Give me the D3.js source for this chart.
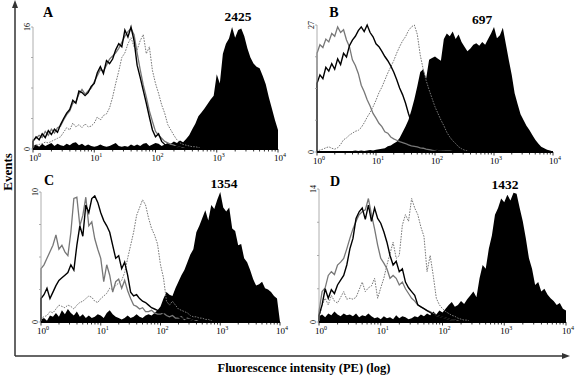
<!DOCTYPE html>
<html>
<head>
<meta charset="utf-8">
<script src="https://cdn.jsdelivr.net/npm/d3@7"></script>
<style>
  body { margin: 0; background: #fff; }
  svg { display: block; font-family: "Liberation Serif", "DejaVu Serif", serif; }
</style>
</head>
<body>
<div id="wrapper"></div>
<script>
// bins are 0.05 apart in log10(fluorescence), starting at 10^0
const binStep = 0.05
const decadeExponents = [0, 1, 2, 3, 4]
const panelLetters = ["A", "B", "C", "D"]
const panelCounts = ["2425", "697", "1354", "1432"]
const yMaxes = [16, 27, 10, 14]

// panel A
const aFill = [
  0.4,0.6,0.3,0.7,0.4,0.6,0.8,0.4,0.7,0.5,
  0.4,0.7,0.5,0.8,0.9,0.5,0.7,0.4,0.6,0.4,
  0.3,0.4,0.6,0.4,0.3,0.4,0.6,0.8,0.4,0.3,
  0.4,0.3,0.6,0.4,0.6,0.4,0.7,0.8,0.4,0.6,
  0.8,0.7,0.4,0.6,0.8,0.7,1.0,0.8,1.1,0.9,
  1.3,1.8,2.6,3.3,4.3,4.8,5.3,5.9,6.5,7.0,
  9.8,8.6,12.5,13.8,14.5,16.0,14.6,15.6,15.8,14.8,
  13.2,12.0,11.2,10.8,10.6,9.6,8.5,6.8,5.3,3.8,
  2.5
]
const aGray = [
  1.2,1.4,1.8,1.5,2.3,1.8,2.6,2.1,2.8,3.0,
  3.8,4.5,5.0,6.0,6.2,7.2,7.8,7.2,7.6,8.0,
  8.8,9.6,10.4,10.2,11.0,11.8,12.2,12.6,13.2,14.0,
  14.8,15.4,15.8,15.0,12.6,10.4,8.4,6.8,5.0,3.6,
  2.3,1.8,1.4,1.0,0.8,0.6,0.5,0.3,0.2,0.1,
  0
]
const aBlack = [
  1.0,1.6,1.2,2.0,1.5,2.4,1.9,2.6,2.2,3.2,
  4.0,4.7,5.2,6.4,6.0,7.6,7.4,7.0,7.4,8.2,
  8.6,10.0,10.8,9.9,11.6,11.2,11.8,13.0,13.8,13.4,
  15.6,14.7,16.0,14.2,11.0,9.4,7.7,6.0,4.2,2.5,
  1.6,2.0,1.0,0.6,0.5,0.4,0.3,0.3,0.2,0
]
const aDotted = [
  0.3,0.5,0.6,0.7,0.9,0.8,1.0,1.2,1.4,1.6,
  2.2,2.8,2.5,3.4,2.9,3.2,2.8,3.3,2.9,3.0,
  3.4,4.2,3.8,4.4,4.6,5.4,6.8,8.6,10.2,12.0,
  12.6,13.8,14.6,13.4,13.0,14.2,15.0,12.5,13.4,10.3,
  8.6,7.3,5.8,4.7,3.2,2.5,1.8,1.2,0.8,0.6,
  0.5,0.4,0.3,0.3,0.2,0
]

// panel B
const bFill = [
  0.1,0.1,0.2,0.1,0.2,0.1,0.2,0.2,0.1,0.2,
  0.2,0.1,0.2,0.3,0.2,0.3,0.2,0.3,0.4,0.3,
  0.5,0.6,0.7,0.8,1.2,1.4,1.8,2.2,3.0,4.2,
  5.4,6.8,8.9,11.2,14.0,17.0,17.6,15.6,19.6,20.0,
  20.3,19.8,19.4,24.0,25.2,24.6,25.6,24.0,25.0,23.4,
  22.4,21.4,22.0,22.8,23.1,22.6,23.4,22.8,24.0,25.2,
  26.6,24.2,24.8,26.4,23.0,19.6,16.4,12.5,10.2,8.0,
  6.8,5.6,4.7,3.6,2.6,1.8,1.1,0.8,0.5,0.3,
  0.1
]
const bGray = [
  21.0,22.8,22.2,24.0,23.4,25.2,24.6,26.6,25.4,26.0,
  23.8,22.4,19.6,18.4,16.7,14.2,12.8,11.1,9.8,8.2,
  7.2,6.1,5.4,4.3,4.0,3.2,2.8,2.5,2.2,2.0,
  1.8,1.5,1.3,1.2,1.1,0.9,0.8,0.6,0.5,0.4,
  0.4,0.3,0.3,0.2,0.2,0.2,0.1,0
]
const bBlack = [
  14.6,16.4,15.6,18.0,17.2,18.8,17.6,19.8,18.6,21.0,
  20.2,22.6,23.8,24.6,25.8,26.6,25.6,27.0,25.4,24.5,
  23.0,22.4,21.4,20.3,19.4,18.3,17.0,15.4,13.6,12.2,
  10.4,8.2,6.3,4.6,2.8,2.0,1.5,1.2,1.0,0.7,
  0.5,0.3,0.2,0.1,0
]
const bDotted = [
  0.2,0.4,0.6,0.9,1.1,0.8,0.6,0.9,1.6,2.6,
  3.0,3.6,4.0,4.4,4.6,5.2,6.2,7.4,8.4,9.6,
  11.0,12.6,13.8,15.3,16.8,18.1,19.4,21.0,22.4,23.6,
  24.5,25.8,26.6,27.0,25.0,20.6,17.6,15.2,13.2,11.4,
  9.6,8.2,6.8,5.6,4.2,3.2,2.4,1.8,1.1,0.7,
  0.4,0.2,0
]

// panel C
const cFill = [
  0.2,0.3,0.1,0.5,0.4,0.7,0.4,0.9,0.6,1.0,
  0.7,0.5,0.8,0.4,0.6,0.3,0.5,0.3,0.4,0.6,
  0.5,0.3,0.7,0.9,0.6,0.4,0.3,0.2,0.3,0.5,
  0.3,0.4,0.6,0.4,0.3,0.5,0.6,0.5,0.7,0.9,
  1.2,1.8,2.3,2.1,2.0,2.6,3.1,3.6,4.0,4.6,
  5.2,5.6,6.9,7.4,8.0,8.6,7.8,9.0,8.7,9.4,
  10.0,8.8,8.5,8.8,7.2,7.0,5.9,6.0,4.9,4.6,
  4.0,3.3,2.8,2.9,3.1,2.6,2.5,2.3,2.0,1.8,
  0
]
const cGray = [
  4.1,4.4,4.9,5.4,5.9,6.7,5.6,5.9,5.4,5.1,
  6.9,9.5,9.6,7.4,8.2,9.6,7.4,7.7,6.4,5.6,
  4.9,3.1,4.4,3.6,2.3,3.1,3.3,2.6,3.2,2.4,
  1.8,1.3,1.2,1.0,1.1,0.8,0.8,0.9,0.7,0.6,
  0.6,0.7,0.5,0.4,0.5,0.3,0.3,0.4,0.2,0.3,
  0.2,0.1,0.1,0
]
const cBlack = [
  1.8,2.1,2.6,1.8,2.3,2.8,3.2,3.4,3.6,3.8,
  4.4,4.0,5.9,7.4,6.6,9.0,8.4,9.5,9.7,9.2,
  8.4,7.8,7.4,6.9,5.9,4.9,5.1,4.1,4.6,3.6,
  2.3,2.0,2.1,1.8,1.6,1.5,1.3,1.1,1.0,0.9,
  0.8,0.7,0.8,0.9,1.0,0.6,0.4,0.3,0.3,0.2,
  0.2,0.1,0
]
const cDotted = [
  0.3,0.4,0.5,0.8,0.7,1.0,1.3,1.2,1.1,1.3,
  1.2,1.0,1.3,1.5,1.6,1.8,2.0,1.9,1.6,1.5,
  1.8,2.0,2.2,2.6,2.5,2.8,3.0,3.2,3.8,4.9,
  5.9,6.9,8.2,8.8,9.4,9.0,8.0,7.2,6.7,6.0,
  4.4,3.4,1.6,1.3,1.6,1.3,1.0,0.9,0.8,0.7,
  0.5,0.4,0.4,0.3,0.3,0.2,0.2,0.1,0
]

// panel D
const dFill = [
  0.6,0.8,0.5,0.9,0.7,1.1,0.8,0.6,0.9,0.7,
  0.8,0.6,0.9,0.5,0.7,0.6,0.9,0.6,0.4,0.5,
  0.3,0.6,0.4,0.5,0.3,0.7,0.4,0.6,0.5,0.3,
  0.4,0.6,0.5,0.8,0.6,0.9,0.7,1.1,0.8,1.2,
  1.0,1.4,1.8,2.1,1.6,1.8,2.2,1.9,2.4,2.8,
  3.2,2.6,4.6,6.0,5.6,7.7,9.1,11.3,12.0,13.0,
  12.6,13.4,12.8,13.6,13.5,12.0,10.6,8.8,6.7,5.6,
  3.9,4.2,3.2,3.5,2.9,2.5,2.2,1.8,2.0,1.4,
  1.2
]
const dGray = [
  1.1,3.2,3.6,4.9,5.3,5.0,6.0,6.3,6.7,7.7,
  8.8,9.8,10.6,11.3,11.6,11.8,13.0,11.3,9.8,8.1,
  6.7,6.2,5.6,4.6,4.9,4.6,3.9,4.2,3.5,3.0,
  2.5,2.2,1.8,1.6,1.4,1.2,1.1,0.9,0.7,0.6,
  0.5,0.4,0.3,0.2,0.2,0.1,0
]
const dBlack = [
  0.7,1.8,3.5,2.5,3.4,3.0,3.9,4.4,4.9,6.0,
  7.7,8.8,10.9,11.6,12.0,10.8,12.3,10.6,12.0,10.9,
  10.4,9.5,8.4,7.0,6.0,6.4,5.3,5.6,4.2,3.6,
  3.2,2.8,1.8,1.6,1.4,1.2,1.0,0.8,0.7,0.6,
  0.5,0.4,0.3,0.2,0.2,0
]
const dDotted = [
  0.3,1.8,2.5,1.8,2.8,2.2,2.0,2.6,3.2,2.4,
  2.5,2.4,2.6,3.4,4.2,3.2,3.6,3.8,4.6,2.5,
  3.6,4.6,6.0,7.2,8.4,6.7,7.0,10.2,11.3,10.6,
  13.0,12.0,11.3,10.0,9.0,5.3,7.0,4.9,2.5,1.8,
  1.4,1.1,0.9,0.7,0.6,0.4,0.3,0.2,0.2,0
]

const panelSeries = [
  { fill: aFill, dotted: aDotted, gray: aGray, black: aBlack },
  { fill: bFill, dotted: bDotted, gray: bGray, black: bBlack },
  { fill: cFill, dotted: cDotted, gray: cGray, black: cBlack },
  { fill: dFill, dotted: dDotted, gray: dGray, black: dBlack },
]

// where each panel sits on the page (the original panels are not quite aligned)
const panelBoxes = [
  { x0: 33, x4: 278, top: 27, base: 149, letterAt: [48, 17], countAt: [238, 21] },
  { x0: 317, x4: 553, top: 25, base: 152, letterAt: [334, 17], countAt: [482, 24] },
  { x0: 41, x4: 280, top: 192, base: 322, letterAt: [49, 185], countAt: [224, 188] },
  { x0: 319, x4: 566, top: 189, base: 322, letterAt: [335, 186], countAt: [505, 189] },
]

const drawFigure = () => {
  const width = 576
  const height = 376

  const svg = d3
    .select("#wrapper")
    .append("svg")
    .attr("width", width)
    .attr("height", height)

  // 1) outer frame with arrows
  const frame = svg.append("g").attr("stroke", "#333").attr("fill", "#333")
  frame.append("line")
    .attr("x1", 15).attr("y1", 356).attr("x2", 15).attr("y2", 5)
    .attr("stroke-width", 1.5)
  frame.append("path").attr("d", "M15,0 L12,8 L18,8 Z").attr("stroke", "none")
  frame.append("line")
    .attr("x1", 15).attr("y1", 356).attr("x2", 564).attr("y2", 356)
    .attr("stroke-width", 1.5)
  frame.append("path").attr("d", "M570,356 L562,353 L562,359 Z").attr("stroke", "none")

  svg.append("text")
    .attr("transform", "translate(12,172) rotate(-90)")
    .attr("text-anchor", "middle")
    .style("font-size", "13px")
    .style("font-weight", "bold")
    .text("Events")

  svg.append("text")
    .attr("x", 304)
    .attr("y", 372)
    .attr("text-anchor", "middle")
    .style("font-size", "12.5px")
    .style("font-weight", "bold")
    .text("Fluorescence intensity (PE) (log)")

  // 2) the four histograms
  panelBoxes.forEach((box, k) => {
    const series = panelSeries[k]
    const yMax = yMaxes[k]

    const xScale = d3.scaleLog().domain([1, 1e4]).range([box.x0, box.x4])
    const yScale = d3.scaleLinear().domain([0, yMax]).range([box.base, box.top])

    const toPoints = (values) => [
      { e: 0, v: 0 },
      ...values.map((v, i) => ({ e: i * binStep, v })),
    ]
    const xOf = (d) => xScale(10 ** d.e)

    const line = d3.line().x(xOf).y((d) => yScale(d.v))
    const area = d3.area().x(xOf).y0(yScale(0)).y1((d) => yScale(d.v))

    const g = svg.append("g")

    g.append("path")
      .attr("d", area(toPoints(series.fill)))
      .attr("fill", "#000")

    g.append("path")
      .attr("d", line(toPoints(series.dotted)))
      .attr("fill", "none")
      .attr("stroke", "#777")
      .attr("stroke-width", 1)
      .attr("stroke-dasharray", "1.6,1.2")

    g.append("path")
      .attr("d", line(toPoints(series.gray)))
      .attr("fill", "none")
      .attr("stroke", "#777")
      .attr("stroke-width", 1.3)

    g.append("path")
      .attr("d", line(toPoints(series.black)))
      .attr("fill", "none")
      .attr("stroke", "#000")
      .attr("stroke-width", 1.4)

    // y axis: thin grey line, quarter ticks, only 0 and max labelled
    g.append("line")
      .attr("x1", box.x0).attr("x2", box.x0)
      .attr("y1", box.base).attr("y2", box.top)
      .attr("stroke", "#999").attr("stroke-width", 0.8)

    g.selectAll(".ytick")
      .data([0, 0.25, 0.5, 0.75, 1].map((f) => f * yMax))
      .join("line")
      .attr("class", "ytick")
      .attr("x1", box.x0 - 2).attr("x2", box.x0)
      .attr("y1", (d) => yScale(d)).attr("y2", (d) => yScale(d))
      .attr("stroke", "#999").attr("stroke-width", 0.8)

    g.selectAll(".ylabel")
      .data([0, yMax])
      .join("text")
      .attr("class", "ylabel")
      .attr("transform", (d) => `translate(${box.x0 - 3},${yScale(d)}) rotate(-90)`)
      .attr("text-anchor", "middle")
      .style("font-size", "8px")
      .text((d) => d)

    // x axis: heavy baseline with log ticks
    g.append("line")
      .attr("x1", box.x0).attr("x2", box.x4)
      .attr("y1", box.base).attr("y2", box.base)
      .attr("stroke", "#000").attr("stroke-width", 2)

    g.selectAll(".xtick")
      .data(xScale.ticks())
      .join("line")
      .attr("class", "xtick")
      .attr("x1", (d) => xScale(d)).attr("x2", (d) => xScale(d))
      .attr("y1", box.base)
      .attr("y2", (d) => box.base + (Number.isInteger(Math.log10(d)) ? 3.5 : 2.5))
      .attr("stroke", "#000").attr("stroke-width", 0.8)

    const xLabels = g.selectAll(".xlabel")
      .data(decadeExponents)
      .join("text")
      .attr("class", "xlabel")
      .attr("x", (d) => xScale(10 ** d) + 2)
      .attr("y", box.base + 12)
      .attr("text-anchor", "middle")
      .style("font-size", "9px")
    xLabels.append("tspan").text("10")
    xLabels.append("tspan")
      .attr("dy", -4)
      .style("font-size", "6px")
      .text((d) => d)

    // panel letter and event count
    g.append("text")
      .attr("x", box.letterAt[0]).attr("y", box.letterAt[1])
      .attr("text-anchor", "middle")
      .style("font-size", "14px").style("font-weight", "bold")
      .text(panelLetters[k])

    g.append("text")
      .attr("x", box.countAt[0]).attr("y", box.countAt[1])
      .attr("text-anchor", "middle")
      .style("font-size", "13.5px").style("font-weight", "bold")
      .text(panelCounts[k])
  })
}

drawFigure()
</script>
</body>
</html>
